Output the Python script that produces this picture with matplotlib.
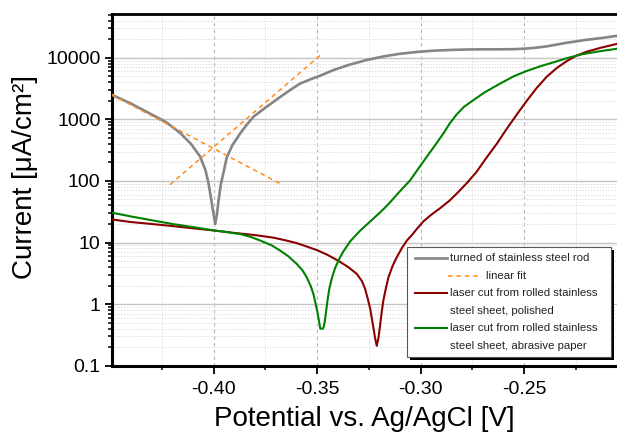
import matplotlib
matplotlib.use("Agg")
import matplotlib.pyplot as plt
import matplotlib.ticker as mticker
from matplotlib.patches import Rectangle
from matplotlib.lines import Line2D
import numpy as np

plt.rcParams['font.family'] = ['Liberation Sans', 'DejaVu Sans']

# --- data (potential in V, current in uA/cm2) ---
rod_v = [-0.4492, -0.4400, -0.4300, -0.4230, -0.4162, -0.4110, -0.4066, -0.4040,
         -0.4026, -0.4012, -0.4000, -0.3993, -0.3985, -0.3976, -0.3965, -0.3950,
         -0.3937, -0.3910, -0.3872, -0.3840, -0.3808, -0.3750, -0.3679, -0.3630,
         -0.3583, -0.3530, -0.3486, -0.3422, -0.3350, -0.3260, -0.3180, -0.3100,
         -0.3020, -0.2939, -0.2850, -0.2777, -0.2700, -0.2616, -0.2540, -0.2487,
         -0.2440, -0.2391, -0.2340, -0.2294, -0.2200, -0.2120, -0.2051]
rod_i = [2500, 1800, 1200, 900, 600, 400, 250, 150,
         95, 50, 28, 20, 28, 50, 90, 150,
         240, 380, 590, 820, 1100, 1550, 2300, 3000,
         3800, 4500, 5100, 6300, 7600, 9200, 10500, 11600,
         12400, 13000, 13400, 13600, 13700, 13700, 13800, 14100,
         14600, 15300, 16400, 17500, 19500, 21000, 22700]

fit_cath_v = [-0.4492, -0.3670]
fit_cath_i = [2500, 87]
fit_anod_v = [-0.4211, -0.3486]
fit_anod_i = [87, 10900]

polished_v = [-0.4492, -0.4400, -0.4300, -0.4200, -0.4100, -0.4000, -0.3900, -0.3800,
              -0.3712, -0.3650, -0.3600, -0.3550, -0.3500, -0.3450, -0.3400, -0.3350,
              -0.3309, -0.3285, -0.3269, -0.3255, -0.3244, -0.3230, -0.3220, -0.3212,
              -0.3204, -0.3196, -0.3188, -0.3180, -0.3168, -0.3156, -0.3135, -0.3115,
              -0.3090, -0.3067, -0.3040, -0.3019, -0.2987, -0.2950, -0.2906, -0.2860,
              -0.2820, -0.2777, -0.2730, -0.2681, -0.2630, -0.2584, -0.2535, -0.2487,
              -0.2440, -0.2391, -0.2340, -0.2294, -0.2250, -0.2198, -0.2130, -0.2051]
polished_i = [23.7, 21.5, 20, 18.5, 17, 15.7, 14.3, 13.2,
              12.0, 10.8, 9.8, 8.6, 7.5, 6.3, 5.1, 4.0,
              3.1, 2.4, 1.8, 1.2, 0.85, 0.45, 0.28, 0.21,
              0.28, 0.45, 0.75, 1.15, 1.8, 2.7, 4.2, 5.8,
              8.2, 10.7, 13.5, 16.5, 22, 28, 36, 48,
              65, 92, 140, 240, 410, 700, 1200, 2000,
              3200, 4900, 6900, 8800, 10700, 12500, 14500, 16800]

abrasive_v = [-0.4492, -0.4400, -0.4300, -0.4200, -0.4100, -0.4000, -0.3940, -0.3872,
              -0.3820, -0.3776, -0.3720, -0.3679, -0.3640, -0.3599, -0.3570, -0.3550,
              -0.3532, -0.3518, -0.3507, -0.3499, -0.3490, -0.3485, -0.3471, -0.3464,
              -0.3457, -0.3450, -0.3441, -0.3428, -0.3414, -0.3395, -0.3373, -0.3340,
              -0.3293, -0.3250, -0.3212, -0.3175, -0.3140, -0.3100, -0.3051, -0.3010,
              -0.2971, -0.2930, -0.2890, -0.2860, -0.2826, -0.2790, -0.2745, -0.2690,
              -0.2616, -0.2550, -0.2487, -0.2420, -0.2359, -0.2290, -0.2214, -0.2130,
              -0.2051]
abrasive_i = [30.5, 26.5, 23, 20, 17.8, 15.7, 14.8, 13.7,
              12.3, 10.8, 9.0, 7.4, 6.0, 4.5, 3.5, 2.7,
              2.0, 1.45, 1.0, 0.75, 0.5, 0.40, 0.40, 0.5,
              0.75, 1.15, 1.8, 2.7, 3.8, 5.3, 7.2, 10.5,
              15.5, 21, 27.5, 36, 48, 68, 102, 160,
              245, 380, 590, 850, 1200, 1600, 2050, 2750,
              3800, 5000, 6100, 7300, 8400, 9900, 11500, 12800,
              14000]

x_ticks = [-0.40, -0.35, -0.30, -0.25]
x_ticklabels = ['-0.40', '-0.35', '-0.30', '-0.25']
y_ticks = [0.1, 1, 10, 100, 1000, 10000]
y_ticklabels = ['0.1', '1', '10', '100', '1000', '10000']

W, H = 617, 434
fig = plt.figure(figsize=(W / 100, H / 100), dpi=100)
ax = fig.add_axes([111.7 / W, 1 - 365.7 / H, (W - 111.7) / W, (365.7 - 14) / H])

ax.set_yscale('log')
ax.set_xlim(-0.4493, -0.2051)
ax.set_ylim(0.1, 10 ** 4.71)

# grid
ax.grid(which='major', axis='y', color='#c4c4c4', linestyle='-', linewidth=1.0)
ax.grid(which='minor', axis='y', color='#dedede', linestyle=(0, (1.5, 1.5)), linewidth=0.7)
ax.grid(which='major', axis='x', color='#b4b4b4', linestyle=(0, (3, 3)), linewidth=0.8)
ax.grid(which='minor', axis='x', color='#e0e0e0', linestyle=(0, (1.5, 1.5)), linewidth=0.7)
ax.set_axisbelow(True)

gray = '#858585'
red = '#8b0000'
green = '#008000'
orange = '#ff8c1a'

ax.plot(rod_v, rod_i, color=gray, lw=1.9, zorder=3)
ax.plot(fit_cath_v, fit_cath_i, color=orange, lw=1.1, ls=(0, (3, 2.5)), zorder=4)
ax.plot(fit_anod_v, fit_anod_i, color=orange, lw=1.1, ls=(0, (3, 2.5)), zorder=4)
ax.plot(polished_v, polished_i, color=red, lw=1.5, zorder=3)
ax.plot(abrasive_v, abrasive_i, color=green, lw=1.5, zorder=3)

# ticks
ax.set_xticks(x_ticks)
ax.set_xticklabels(x_ticklabels)
ax.xaxis.set_minor_locator(mticker.MultipleLocator(0.025))
ax.set_yticks(y_ticks)
ax.set_yticklabels(y_ticklabels)
ax.yaxis.set_minor_locator(mticker.LogLocator(base=10, subs=np.arange(2, 10), numticks=20))
ax.yaxis.set_minor_formatter(mticker.NullFormatter())
ax.tick_params(axis='both', which='major', direction='out', length=5, width=1.3,
               labelsize=14, colors='black')
ax.tick_params(axis='y', which='major', pad=3)
ax.tick_params(axis='x', which='major', length=6, pad=5)
ax.tick_params(axis='both', which='minor', direction='out', length=3, width=1.1)
ax.tick_params(top=False, right=False, which='both')

for s in ['left', 'bottom']:
    ax.spines[s].set_linewidth(2.2)
ax.spines['top'].set_linewidth(2.0)
ax.spines['right'].set_visible(False)

fig.text(25 / W, 1 - 177.5 / H, 'Current [μA/cm²]', rotation=90, fontsize=20,
         ha='center', va='center')
fig.text(364 / W, 1 - 419 / H, 'Potential vs. Ag/AgCl [V]', fontsize=20,
         ha='center', va='center')


# legend drawn by hand (Origin style)
def fx(x):
    return x / W


def fy(y):
    return 1 - y / H


lx0, ly0, lx1, ly1 = 406.7, 247, 610.7, 356.7
fig.patches.append(Rectangle((fx(lx0 + 3), fy(ly1 + 3)), fx(lx1 - lx0), (ly1 - ly0) / H,
                             transform=fig.transFigure, facecolor='black',
                             edgecolor='none', zorder=10))
fig.patches.append(Rectangle((fx(lx0), fy(ly1)), fx(lx1 - lx0), (ly1 - ly0) / H,
                             transform=fig.transFigure, facecolor='white',
                             edgecolor='#555555', linewidth=0.8, zorder=11))

rows = [258.3, 276, 293.3, 310.7, 328.3, 346]
entries = [
    (gray, '-', 1.9, 415, 447, 450, 'turned of stainless steel rod'),
    (orange, (0, (3, 2.5)), 1.1, 448, 482, 486, 'linear fit'),
    (red, '-', 1.5, 415, 447, 450, 'laser cut from rolled stainless'),
    (None, None, None, None, None, 450, 'steel sheet, polished'),
    (green, '-', 1.5, 415, 447, 450, 'laser cut from rolled stainless'),
    (None, None, None, None, None, 450, 'steel sheet, abrasive paper'),
]
for yrow, (col, ls, lw, xa, xb, xt, label) in zip(rows, entries):
    if col is not None:
        fig.lines.append(Line2D([fx(xa), fx(xb)], [fy(yrow), fy(yrow)],
                                transform=fig.transFigure, color=col, ls=ls, lw=lw,
                                zorder=12))
    fig.text(fx(xt), fy(yrow), label, fontsize=8.2, color='#222222',
             ha='left', va='center', zorder=12)

fig.savefig('out.png', dpi=100)
